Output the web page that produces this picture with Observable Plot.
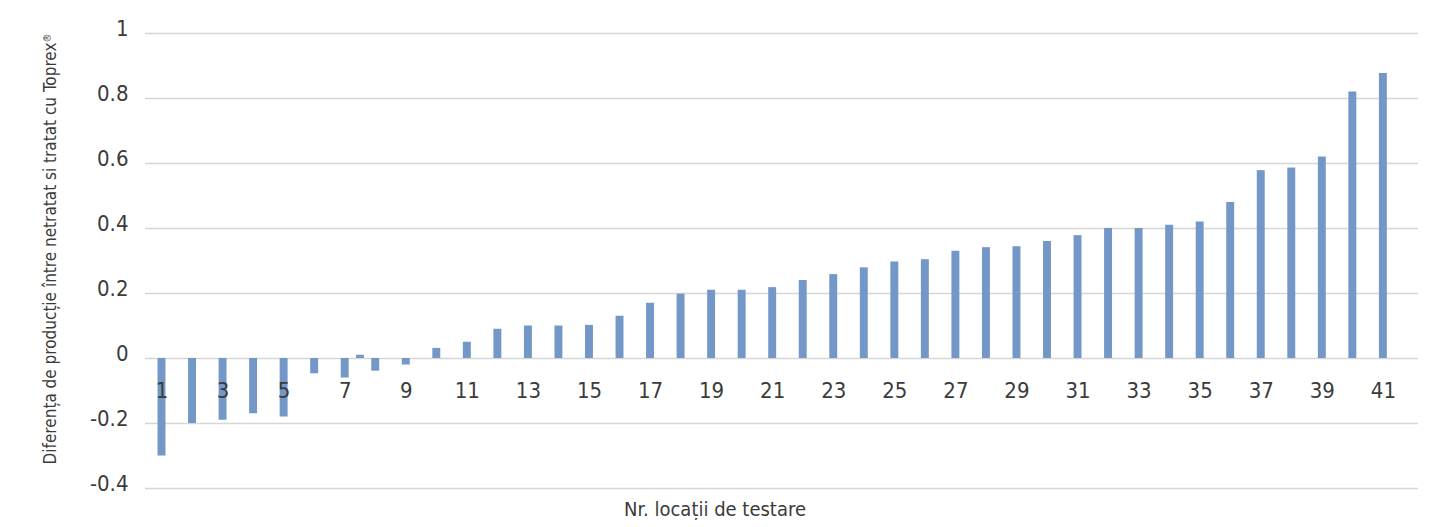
<!DOCTYPE html>
<html>
<head>
<meta charset="utf-8">
<script src="https://cdn.jsdelivr.net/npm/d3@7"></script>
<script src="https://cdn.jsdelivr.net/npm/@observablehq/plot@0.6"></script>
<style>
  body { margin: 0; background: #fff; }
  #chart { width: 1430px; font-family: "Liberation Sans Narrow", "DejaVu Sans Condensed", "Roboto", sans-serif; color: #3b3b3b; }
  #xtitle { width: 1430px; text-align: center; font-size: 20px; line-height: 22px; margin-top: -2px; color: #3b3b3b; font-family: "Liberation Sans Narrow", "DejaVu Sans Condensed", "Roboto", sans-serif; }
</style>
</head>
<body>
<div id="chart"></div>
<script>
// Location numbers (categories)
const locations = [1,2,3,4,5,6,7,8,9,10,11,12,13,14,15,16,17,18,19,20,21,22,23,24,25,26,27,28,29,30,31,32,33,34,35,36,37,38,39,40,41];
// Yield difference between untreated and treated with Toprex
const differences = [-0.30,-0.20,-0.19,-0.17,-0.18,-0.047,-0.06,-0.039,-0.02,0.031,
  0.05,0.09,0.10,0.10,0.102,0.13,0.17,0.198,0.21,0.21,
  0.218,0.24,0.258,0.279,0.297,0.304,0.33,0.341,0.344,0.36,
  0.378,0.40,0.40,0.41,0.42,0.48,0.578,0.586,0.62,0.82,0.877];
// One extra small bar appearing between locations 7 and 8
const extraPositions = [7.5];
const extraValues = [0.01];
// Tick labels
const xTickLabels = [1,3,5,7,9,11,13,15,17,19,21,23,25,27,29,31,33,35,37,39,41];
const yTicks = [-0.4,-0.2,0,0.2,0.4,0.6,0.8,1];
const yTitleMain = "Diferența de producție între netratat si tratat cu Toprex";
const yTitleSup = "®";
const xTitle = "Nr. locații de testare";

const bars = locations.map((loc, i) => ({loc, value: differences[i]}));
const extras = extraPositions.map((loc, i) => ({loc, value: extraValues[i]}));
const halfW = 0.13;
const barColor = "#7397c7";

const chart = Plot.plot({
  width: 1430,
  height: 500,
  marginTop: 33,
  marginBottom: 12,
  marginLeft: 145,
  marginRight: 12,
  style: {fontFamily: '"Liberation Sans Narrow", "DejaVu Sans Condensed", "Roboto", sans-serif', color: "#3b3b3b", background: "#fff"},
  x: {type: "linear", domain: [0.46, 42.15], axis: null},
  y: {domain: [-0.4, 1], axis: null},
  marks: [
    Plot.ruleY(yTicks, {stroke: "#d6d6d6", strokeWidth: 1.3}),
    Plot.rectY(bars, {x1: d => d.loc - halfW, x2: d => d.loc + halfW, y1: 0, y2: "value", fill: barColor}),
    Plot.rectY(extras, {x1: d => d.loc - halfW, x2: d => d.loc + halfW, y1: 0, y2: "value", fill: barColor}),
    Plot.text(yTicks, {x: 0.46, y: d => d, text: d => String(d), textAnchor: "end", dx: -17, dy: -5, fontSize: 22, fill: "#3b3b3b"}),
    Plot.text(xTickLabels, {x: d => d, y: 0, text: d => String(d), dy: 32, fontSize: 22, fill: "#3b3b3b"}),
    Plot.text([yTitleMain], {frameAnchor: "left", textAnchor: "middle", text: d => d, rotate: -90, dx: -95, dy: -12, fontSize: 17, fill: "#3b3b3b", className: "ytitle"})
  ]
});
document.getElementById("chart").appendChild(chart);
// add superscript ® to the y title
d3.select(chart).selectAll(".ytitle text").each(function() {
  d3.select(this).append("tspan").attr("dy", "-0.5em").attr("font-size", "10px").text(yTitleSup);
});
const t = document.createElement("div");
t.id = "xtitle";
t.textContent = xTitle;
document.body.appendChild(t);
</script>
</body>
</html>
